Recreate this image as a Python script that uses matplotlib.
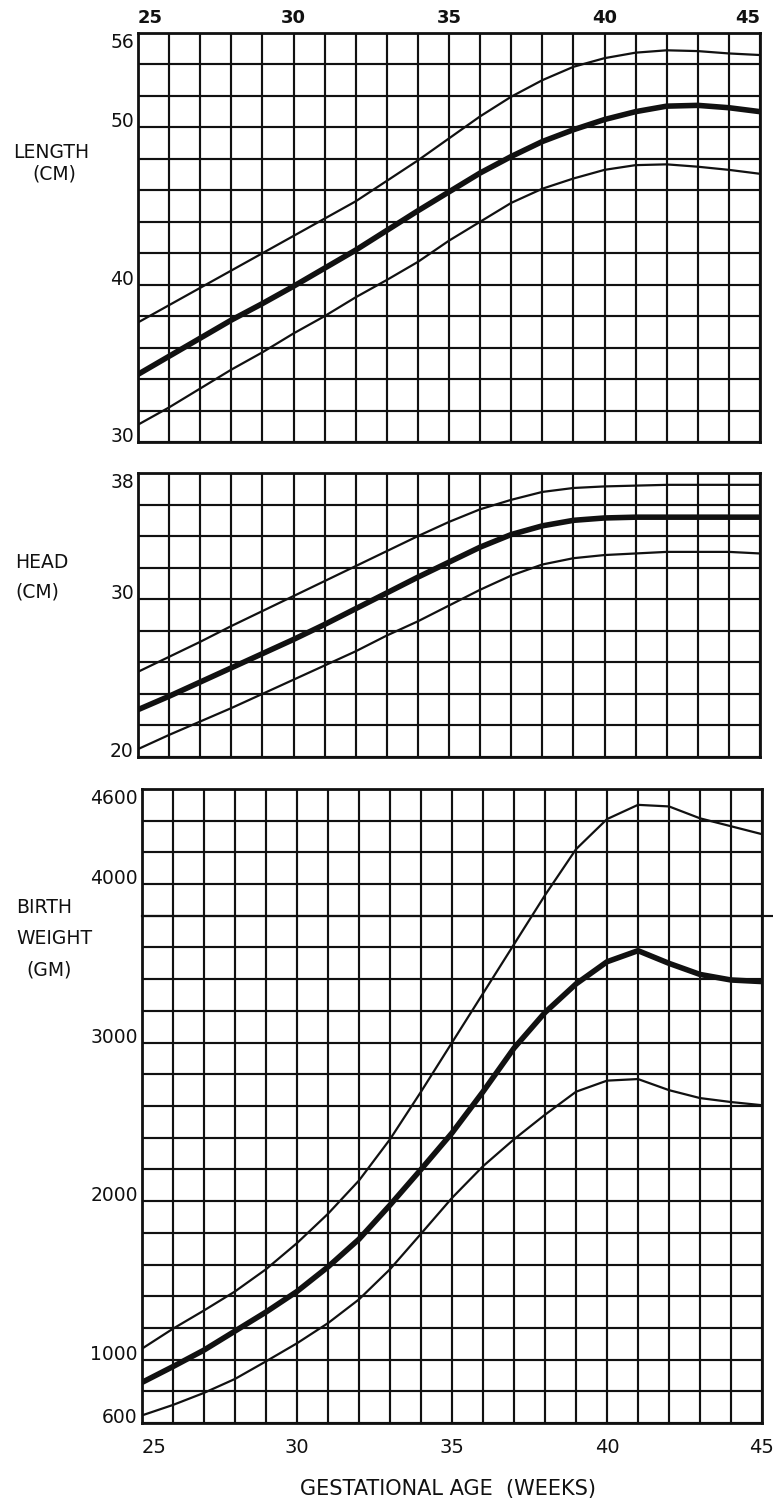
import matplotlib
matplotlib.use("Agg")
import matplotlib.pyplot as plt

# ---------------- data ----------------
weeks = list(range(25, 46))

length_p90 = [37.6, 38.7, 39.8, 40.9, 42.0, 43.1, 44.2, 45.3, 46.6, 47.9, 49.3,
              50.7, 51.95, 53.0, 53.85, 54.4, 54.75, 54.9, 54.85, 54.7, 54.6]
length_p50 = [34.3, 35.45, 36.6, 37.75, 38.8, 39.9, 41.05, 42.2, 43.45, 44.7, 45.9,
              47.1, 48.15, 49.1, 49.85, 50.5, 51.0, 51.35, 51.4, 51.25, 51.0]
length_p10 = [31.1, 32.2, 33.4, 34.6, 35.7, 36.9, 38.0, 39.2, 40.3, 41.45, 42.8,
              44.0, 45.2, 46.1, 46.75, 47.3, 47.6, 47.65, 47.5, 47.3, 47.05]

head_p90 = [25.4, 26.35, 27.3, 28.3, 29.25, 30.2, 31.15, 32.1, 33.05, 34.0, 34.9,
            35.7, 36.3, 36.8, 37.05, 37.15, 37.2, 37.25, 37.25, 37.25, 37.25]
head_p50 = [23.0, 23.85, 24.75, 25.65, 26.55, 27.45, 28.4, 29.4, 30.4, 31.4, 32.35,
            33.3, 34.1, 34.65, 35.0, 35.15, 35.2, 35.2, 35.2, 35.2, 35.2]
head_p10 = [20.5, 21.4, 22.25, 23.1, 24.0, 24.9, 25.8, 26.7, 27.7, 28.6, 29.6,
            30.6, 31.5, 32.2, 32.6, 32.8, 32.9, 33.0, 33.0, 33.0, 32.9]

weight_p90 = [1069, 1195, 1310, 1430, 1570, 1735, 1920, 2130, 2390, 2690, 3000,
              3310, 3620, 3930, 4220, 4410, 4500, 4490, 4415, 4365, 4315]
weight_p50 = [856, 956, 1060, 1180, 1300, 1430, 1585, 1760, 1975, 2200, 2430,
              2690, 2965, 3190, 3370, 3510, 3580, 3500, 3430, 3395, 3385]
weight_p10 = [648, 714, 790, 878, 989, 1103, 1230, 1380, 1570, 1794, 2020,
              2220, 2390, 2545, 2690, 2760, 2770, 2700, 2650, 2625, 2605]

x_tick_labels = [25, 30, 35, 40, 45]
length_grid = list(range(30, 57, 2))
length_tick_labels = [56, 50, 40, 30]
head_grid = list(range(20, 39, 2))
head_tick_labels = [38, 30, 20]
weight_grid = list(range(600, 4601, 200))
weight_tick_labels = [4600, 4000, 3000, 2000, 1000, 600]

# ---------------- figure ----------------
W, H = 773, 1500
fig = plt.figure(figsize=(W / 100, H / 100), dpi=100)
fig.patch.set_facecolor("white")
INK = "#111111"
FONT = "DejaVu Sans"


def box(left, top, right, bottom):
    return [left / W, 1 - bottom / H, (right - left) / W, (bottom - top) / H]


def style(ax, grid, labelled, ylim):
    ax.set_xlim(25, 45)
    ax.set_ylim(*ylim)
    ax.set_xticks(weeks)
    ax.set_xticklabels([str(w) if w in x_tick_labels else "" for w in weeks])
    ax.set_yticks(grid)
    ax.set_yticklabels([str(v) if v in labelled else "" for v in grid])
    ax.grid(True, color=INK, lw=1.55)
    ax.set_axisbelow(True)
    ax.tick_params(length=0, pad=3, labelsize=13.5, colors=INK)
    for s in ax.spines.values():
        s.set_linewidth(2.0)
        s.set_color(INK)
    for lbl in ax.get_yticklabels():
        lbl.set_fontfamily(FONT)
        if lbl.get_text() == str(max(grid)):
            lbl.set_va("top")
        else:
            lbl.set_va("baseline")


def curves(ax, p90, p50, p10):
    ax.plot(weeks, p90, color=INK, lw=1.6, solid_joinstyle="round", zorder=3)
    ax.plot(weeks, p50, color=INK, lw=4.0, solid_joinstyle="round", zorder=3)
    ax.plot(weeks, p10, color=INK, lw=1.6, solid_joinstyle="round", zorder=3)


# Length panel
ax1 = fig.add_axes(box(138, 33, 760, 442))
style(ax1, length_grid, length_tick_labels, (30, 56))
curves(ax1, length_p90, length_p50, length_p10)
ax1.xaxis.tick_top()
ax1.tick_params(axis="x", labeltop=True, labelbottom=False, pad=4, labelsize=13)
for lbl in ax1.get_xticklabels():
    lbl.set_fontweight("bold")
    if lbl.get_text() == "25":
        lbl.set_ha("left")
    elif lbl.get_text() == "45":
        lbl.set_ha("right")

# Head panel
ax2 = fig.add_axes(box(138, 473, 760, 757))
style(ax2, head_grid, head_tick_labels, (20, 38))
curves(ax2, head_p90, head_p50, head_p10)
ax2.tick_params(axis="x", labelbottom=False)

# Birth weight panel
ax3 = fig.add_axes(box(142, 789, 762, 1423))
style(ax3, weight_grid, weight_tick_labels, (600, 4600))
curves(ax3, weight_p90, weight_p50, weight_p10)
ax3.tick_params(axis="x", pad=11, labelsize=14)
for lbl in ax3.get_xticklabels():
    if lbl.get_text() == "25":
        lbl.set_ha("left")
ax3.axhline(3800, xmin=0, xmax=1.018, color=INK, lw=1.55, clip_on=False, zorder=1)


def ftext(x, y, s, size=13.5, ha="left", **kw):
    fig.text(x / W, 1 - y / H, s, ha=ha, va="center", fontsize=size,
             color=INK, family=FONT, **kw)


ftext(13, 153, "LENGTH")
ftext(32, 174, "(CM)")
ftext(15, 562, "HEAD")
ftext(15, 592, "(CM)")
ftext(16, 908, "BIRTH")
ftext(16, 938, "WEIGHT")
ftext(26, 970, "(GM)")
ftext(448, 1489, "GESTATIONAL AGE  (WEEKS)", size=15, ha="center")

fig.savefig("out.png", dpi=100, facecolor="white")
